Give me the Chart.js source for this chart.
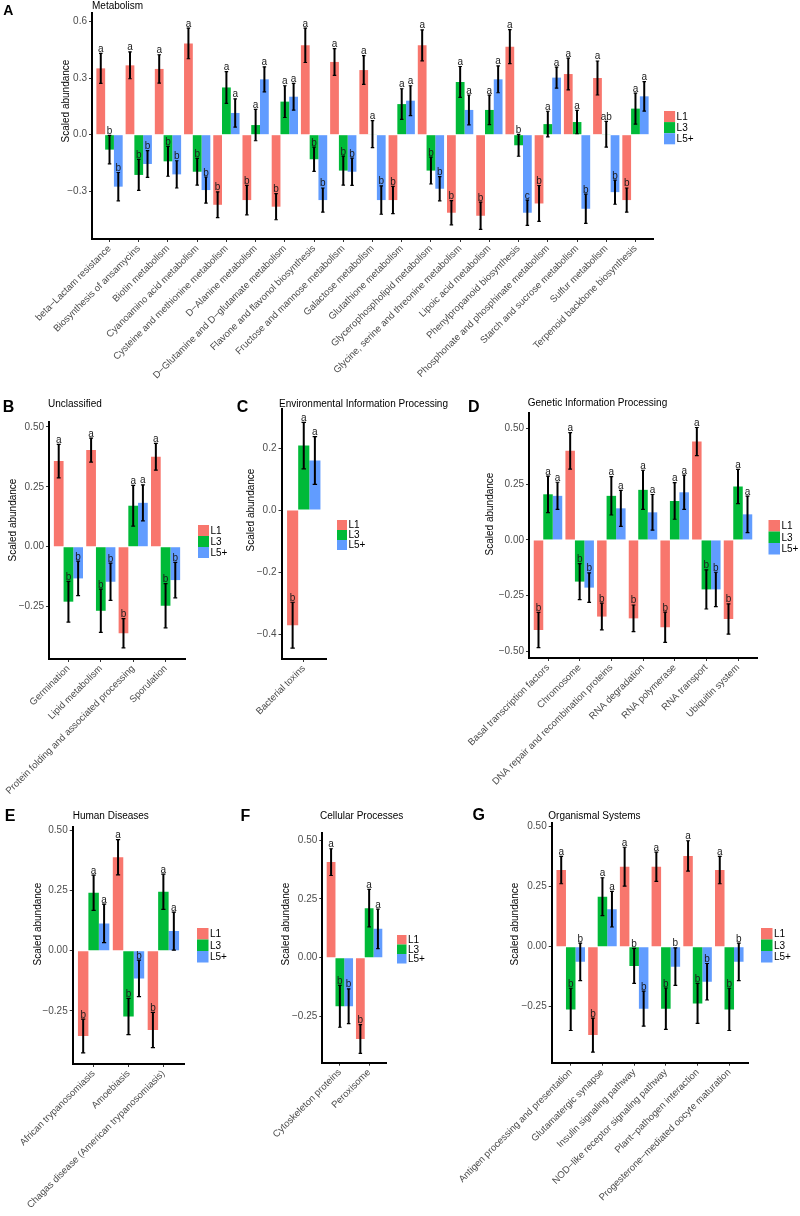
<!DOCTYPE html>
<html>
<head>
<meta charset="utf-8">
<script src="https://cdn.jsdelivr.net/npm/chart.js@4.4.1/dist/chart.umd.min.js"></script>
<style>
  html, body { margin: 0; padding: 0; background: #fff; }
  #page { position: relative; width: 800px; height: 1216px; overflow: hidden; background: #fff; }
  #page canvas { position: absolute; }
</style>
</head>
<body>
<div id="page"></div>
<script>
//Grupos y colores
const groups = ["L1", "L3", "L5+"];
const colors = ["#F8766D", "#00BA38", "#619CFF"];

// A - Metabolism
const metCats = ["beta\u2212Lactam resistance", "Biosynthesis of ansamycins", "Biotin metabolism",
  "Cyanoamino acid metabolism", "Cysteine and methionine metabolism", "D\u2212Alanine metabolism",
  "D\u2212Glutamine and D\u2212glutamate metabolism", "Flavone and flavonol biosynthesis",
  "Fructose and mannose metabolism", "Galactose metabolism", "Glutathione metabolism",
  "Glycerophospholipid metabolism", "Glycine, serine and threonine metabolism", "Lipoic acid metabolism",
  "Phenylpropanoid biosynthesis", "Phosphonate and phosphinate metabolism", "Starch and sucrose metabolism",
  "Sulfur metabolism", "Terpenoid backbone biosynthesis"];
const metL1 = [0.351, 0.367, 0.348, 0.483, -0.371, -0.346, -0.381, 0.473, 0.385, 0.342, -0.346, 0.473, -0.413, -0.429, 0.466, -0.364, 0.321, 0.300, -0.346];
const metL3 = [-0.079, -0.213, -0.141, -0.196, 0.250, 0.051, 0.175, -0.130, -0.190, 0.003, 0.162, -0.190, 0.279, 0.131, -0.056, 0.056, 0.067, 0.002, 0.138];
const metL5 = [-0.275, -0.155, -0.210, -0.293, 0.115, 0.293, 0.201, -0.346, -0.196, -0.346, 0.180, -0.286, 0.131, 0.293, -0.413, 0.302, -0.392, -0.304, 0.203];
const metSeL1 = [0.079, 0.071, 0.075, 0.081, 0.068, 0.078, 0.069, 0.091, 0.071, 0.076, 0.072, 0.082, 0.064, 0.072, 0.090, 0.095, 0.084, 0.090, 0.064];
const metSeL3 = [0.075, 0.082, 0.079, 0.071, 0.084, 0.083, 0.084, 0.064, 0.077, 0.071, 0.081, 0.071, 0.082, 0.078, 0.058, 0.068, 0.062, 0.068, 0.082];
const metSeL5 = [0.075, 0.071, 0.072, 0.069, 0.075, 0.066, 0.071, 0.064, 0.072, 0.075, 0.079, 0.064, 0.079, 0.071, 0.067, 0.056, 0.077, 0.064, 0.078];
const metSigL1 = ["a","a","a","a","b","b","b","a","a","a","b","a","b","b","a","b","a","a","b"];
const metSigL3 = ["b","b","b","b","a","a","a","b","b","a","a","b","a","a","b","a","a","ab","a"];
const metSigL5 = ["b","b","b","b","a","a","a","b","b","b","a","b","a","a","c","a","b","b","a"];
const metTicks = [-0.3, 0, 0.3, 0.6];

// B - Unclassified
const uncCats = ["Germination", "Lipid metabolism", "Protein folding and associated processing", "Sporulation"];
const uncL1 = [0.357, 0.403, -0.361, 0.375];
const uncL3 = [-0.229, -0.267, 0.171, -0.246];
const uncL5 = [-0.132, -0.146, 0.183, -0.139];
const uncSeL1 = [0.070, 0.050, 0.061, 0.056];
const uncSeL3 = [0.085, 0.090, 0.085, 0.092];
const uncSeL5 = [0.072, 0.078, 0.075, 0.074];
const uncSigL1 = ["a","a","b","a"];
const uncSigL3 = ["b","b","a","b"];
const uncSigL5 = ["b","b","a","b"];
const uncTicks = [-0.25, 0, 0.25, 0.5];

// C - Environmental Information Processing
const envCats = ["Bacterial toxins"];
const envL1 = [-0.371], envL3 = [0.208], envL5 = [0.160];
const envSeL1 = [0.074], envSeL3 = [0.075], envSeL5 = [0.077];
const envSigL1 = ["b"], envSigL3 = ["a"], envSigL5 = ["a"];
const envTicks = [-0.4, -0.2, 0, 0.2];

// D - Genetic Information Processing
const genCats = ["Basal transcription factors", "Chromosome", "DNA repair and recombination proteins",
  "RNA degradation", "RNA polymerase", "RNA transport", "Ubiquitin system"];
const genL1 = [-0.404, 0.400, -0.344, -0.352, -0.392, 0.442, -0.355];
const genL3 = [0.205, -0.187, 0.198, 0.225, 0.175, -0.222, 0.240];
const genL5 = [0.198, -0.214, 0.142, 0.124, 0.214, -0.222, 0.115];
const genSeL1 = [0.079, 0.082, 0.060, 0.060, 0.068, 0.063, 0.068];
const genSeL3 = [0.082, 0.081, 0.086, 0.088, 0.082, 0.088, 0.077];
const genSeL5 = [0.061, 0.066, 0.081, 0.080, 0.077, 0.077, 0.082];
const genSigL1 = ["b","a","b","b","b","a","b"];
const genSigL3 = ["a","b","a","a","a","b","a"];
const genSigL5 = ["a","b","a","a","a","b","a"];
const genTicks = [-0.5, -0.25, 0, 0.25, 0.5];

// E - Human Diseases
const humCats = ["African trypanosomiasis", "Amoebiasis", "Chagas disease (American trypanosomiasis)"];
const humL1 = [-0.354, 0.387, -0.329];
const humL3 = [0.240, -0.273, 0.244];
const humL5 = [0.113, -0.115, 0.081];
const humSeL1 = [0.070, 0.073, 0.073];
const humSeL3 = [0.073, 0.075, 0.073];
const humSeL5 = [0.080, 0.076, 0.079];
const humSigL1 = ["b","a","b"];
const humSigL3 = ["a","b","a"];
const humSigL5 = ["a","b","a"];
const humTicks = [-0.25, 0, 0.25, 0.5];

// F - Cellular Processes
const celCats = ["Cytoskeleton proteins", "Peroxisome"];
const celL1 = [0.407, -0.346];
const celL3 = [-0.207, 0.211];
const celL5 = [-0.207, 0.123];
const celSeL1 = [0.057, 0.061];
const celSeL3 = [0.089, 0.080];
const celSeL5 = [0.074, 0.084];
const celSigL1 = ["a","b"];
const celSigL3 = ["b","a"];
const celSigL5 = ["b","a"];
const celTicks = [-0.25, 0, 0.25, 0.5];

// G - Organismal Systems
const orgCats = ["Antigen processing and presentation", "Glutamatergic synapse", "Insulin signaling pathway",
  "NOD\u2212like receptor signaling pathway", "Plant\u2212pathogen interaction", "Progesterone\u2212mediated oocyte maturation"];
const orgL1 = [0.319, -0.368, 0.333, 0.333, 0.378, 0.319];
const orgL3 = [-0.261, 0.208, -0.080, -0.258, -0.236, -0.261];
const orgL5 = [-0.063, 0.156, -0.258, -0.083, -0.146, -0.063];
const orgSeL1 = [0.057, 0.071, 0.081, 0.061, 0.063, 0.057];
const orgSeL3 = [0.088, 0.079, 0.073, 0.086, 0.083, 0.088];
const orgSeL5 = [0.078, 0.074, 0.073, 0.078, 0.076, 0.078];
const orgSigL1 = ["a","b","a","a","a","a"];
const orgSigL3 = ["b","a","b","b","b","b"];
const orgSigL5 = ["b","a","b","b","b","b"];
const orgTicks = [-0.25, 0, 0.25, 0.5];

const FONT = "'Liberation Sans', Arial, Helvetica, sans-serif";
Chart.defaults.font.family = FONT;
Chart.defaults.font.size = 10;

function fmt(v, dec) {
  return (v < 0 ? "\u2212" : "") + Math.abs(v).toFixed(dec);
}

//Plugin: barras de error, letras, títulos y leyenda
const deco = {
  id: "deco",
  afterDatasetsDraw(chart, args, o) {
    const ctx = chart.ctx;
    const ys = chart.scales.y, xs = chart.scales.x;
    const unit = xs.getPixelForValue(1) - xs.getPixelForValue(0);
    const cap = unit * 0.06;
    ctx.save();
    chart.data.datasets.forEach((ds, d) => {
      chart.getDatasetMeta(d).data.forEach((bar, i) => {
        const v = ds.data[i].y, e = ds.errors[i];
        const top = ys.getPixelForValue(v + e), bot = ys.getPixelForValue(v - e);
        ctx.strokeStyle = "#000";
        ctx.lineWidth = 2;
        ctx.beginPath();
        ctx.moveTo(bar.x, top); ctx.lineTo(bar.x, bot);
        ctx.stroke();
        ctx.lineWidth = 1.2;
        ctx.beginPath();
        ctx.moveTo(bar.x - cap, top); ctx.lineTo(bar.x + cap, top);
        ctx.moveTo(bar.x - cap, bot); ctx.lineTo(bar.x + cap, bot);
        ctx.stroke();
        ctx.fillStyle = "#1a1a1a";
        ctx.font = "10px " + FONT;
        ctx.textAlign = "center";
        ctx.textBaseline = "alphabetic";
        ctx.fillText(ds.sig[i], bar.x, top - 1.5);
      });
    });
    ctx.restore();
  },
  afterDraw(chart, args, o) {
    const ctx = chart.ctx;
    const ox = o.origin[0], oy = o.origin[1];
    ctx.save();
    // letra del panel
    ctx.fillStyle = "#000";
    ctx.font = "bold " + o.letterSize + "px " + FONT;
    ctx.textAlign = "center";
    ctx.textBaseline = "middle";
    ctx.fillText(o.letter, o.letterPos[0] - ox, o.letterPos[1] - oy);
    // título
    ctx.font = "10px " + FONT;
    ctx.textAlign = "left";
    ctx.fillText(o.title, o.titlePos[0] - ox, o.titlePos[1] - oy);
    // título eje y
    ctx.save();
    ctx.translate(o.yTitlePos[0] - ox, o.yTitlePos[1] - oy);
    ctx.rotate(-Math.PI / 2);
    ctx.textAlign = "center";
    ctx.fillText("Scaled abundance", 0, 0);
    ctx.restore();
    // leyenda
    const lx = o.legendPos[0] - ox, ly = o.legendPos[1] - oy, k = o.legendKey;
    chart.data.datasets.forEach((ds, d) => {
      ctx.fillStyle = ds.backgroundColor;
      ctx.fillRect(lx, ly + d * k, k, k);
      ctx.fillStyle = "#000";
      ctx.textAlign = "left";
      ctx.fillText(ds.label, lx + k + 1.5, ly + d * k + k / 2 + 0.5);
    });
    ctx.restore();
  }
};

const panels = [
  { letter: "A", letterSize: 14, letterPos: [8.3, 11], title: "Metabolism", titlePos: [92, 6],
    yTitlePos: [66.5, 101], legendPos: [664, 111], legendKey: 11.1,
    box: [0, 0, 800, 400], area: [92, 13, 653, 239], yMin: -0.552, yMax: 0.644, dec: 1,
    cats: metCats, ticks: metTicks, values: [metL1, metL3, metL5],
    errs: [metSeL1, metSeL3, metSeL5], sig: [metSigL1, metSigL3, metSigL5] },
  { letter: "B", letterSize: 16, letterPos: [8.5, 407.5], title: "Unclassified", titlePos: [48, 404],
    yTitlePos: [13.3, 520], legendPos: [198, 525], legendKey: 11,
    box: [0, 395, 240, 420], area: [49, 422, 185, 659], yMin: -0.468, yMax: 0.52, dec: 2,
    cats: uncCats, ticks: uncTicks, values: [uncL1, uncL3, uncL5],
    errs: [uncSeL1, uncSeL3, uncSeL5], sig: [uncSigL1, uncSigL3, uncSigL5] },
  { letter: "C", letterSize: 16, letterPos: [242.5, 407.5], title: "Environmental Information Processing", titlePos: [279, 404],
    yTitlePos: [251.7, 510], legendPos: [337, 520], legendKey: 10,
    box: [230, 395, 235, 420], area: [281.5, 409, 326, 659], yMin: -0.48, yMax: 0.326, dec: 1,
    cats: envCats, ticks: envTicks, values: [envL1, envL3, envL5],
    errs: [envSeL1, envSeL3, envSeL5], sig: [envSigL1, envSigL3, envSigL5] },
  { letter: "D", letterSize: 16, letterPos: [473.8, 407.5], title: "Genetic Information Processing", titlePos: [527.7, 403.7],
    yTitlePos: [490.7, 514], legendPos: [768.5, 520], legendKey: 11.5,
    box: [420, 395, 380, 420], area: [529, 413, 757, 658], yMin: -0.53, yMax: 0.57, dec: 2,
    cats: genCats, ticks: genTicks, values: [genL1, genL3, genL5],
    errs: [genSeL1, genSeL3, genSeL5], sig: [genSigL1, genSigL3, genSigL5] },
  { letter: "E", letterSize: 16, letterPos: [10, 816.5], title: "Human Diseases", titlePos: [72.7, 816],
    yTitlePos: [38.3, 924], legendPos: [197, 928], legendKey: 11.5,
    box: [0, 805, 240, 411], area: [72.7, 826.7, 184.3, 1064], yMin: -0.47, yMax: 0.514, dec: 2,
    cats: humCats, ticks: humTicks, values: [humL1, humL3, humL5],
    errs: [humSeL1, humSeL3, humSeL5], sig: [humSigL1, humSigL3, humSigL5] },
  { letter: "F", letterSize: 16, letterPos: [245.3, 817], title: "Cellular Processes", titlePos: [320, 816],
    yTitlePos: [286.7, 924], legendPos: [397, 935], legendKey: 9.5,
    box: [235, 805, 200, 411], area: [322.3, 833, 386.7, 1062.7], yMin: -0.447, yMax: 0.531, dec: 2,
    cats: celCats, ticks: celTicks, values: [celL1, celL3, celL5],
    errs: [celSeL1, celSeL3, celSeL5], sig: [celSigL1, celSigL3, celSigL5] },
  { letter: "G", letterSize: 16, letterPos: [478.8, 816], title: "Organismal Systems", titlePos: [548.3, 816],
    yTitlePos: [515, 924], legendPos: [761, 928], legendKey: 11.5,
    box: [420, 805, 380, 411], area: [551.7, 823, 748.3, 1062.7], yMin: -0.483, yMax: 0.515, dec: 2,
    cats: orgCats, ticks: orgTicks, values: [orgL1, orgL3, orgL5],
    errs: [orgSeL1, orgSeL3, orgSeL5], sig: [orgSigL1, orgSigL3, orgSigL5] }
];

const page = document.getElementById("page");

function makePanel(p) {
  const [bx, by, bw, bh] = p.box;
  const [l, t, r, b] = p.area;
  const cv = document.createElement("canvas");
  cv.width = bw;
  cv.height = bh;
  cv.style.left = bx + "px";
  cv.style.top = by + "px";
  page.appendChild(cv);
  const n = p.cats.length;
  const axisGrid = { display: true, offset: false, drawOnChartArea: false, drawTicks: true, tickLength: 3, color: "#333", lineWidth: 1 };
  const axisBorder = { display: true, color: "#000", width: 2 };
  new Chart(cv, {
    type: "bar",
    data: {
      datasets: groups.map((g, d) => ({
        label: g,
        data: p.values[d].map((v, i) => ({ x: i, y: v })),
        errors: p.errs[d],
        sig: p.sig[d],
        backgroundColor: colors[d],
        borderWidth: 0,
        categoryPercentage: n > 1 ? 0.9 : 0.75,
        barPercentage: 1
      }))
    },
    options: {
      responsive: false,
      animation: false,
      layout: { padding: { left: 0, top: t - by, right: bx + bw - r, bottom: 0 } },
      plugins: {
        legend: { display: false },
        tooltip: { enabled: false },
        deco: Object.assign({ origin: [bx, by] }, p)
      },
      scales: {
        x: {
          type: "linear",
          offset: false,
          min: -0.6,
          max: n - 0.4,
          afterBuildTicks: (s) => { s.ticks = p.cats.map((c, i) => ({ value: i })); },
          afterFit: (s) => { s.height = by + bh - b; },
          ticks: { autoSkip: false, minRotation: 45, maxRotation: 45, padding: 1, color: "#4d4d4d",
                   font: { size: 9.6 }, callback: (v) => p.cats[v] },
          grid: axisGrid,
          border: axisBorder
        },
        y: {
          min: p.yMin,
          max: p.yMax,
          afterBuildTicks: (s) => { s.ticks = p.ticks.map((v) => ({ value: v })); },
          afterFit: (s) => { s.width = l - bx; },
          ticks: { padding: 2, color: "#4d4d4d", callback: (v) => fmt(v, p.dec) },
          grid: axisGrid,
          border: axisBorder
        }
      }
    },
    plugins: [deco]
  });
}

window.addEventListener("load", () => {
  panels.forEach(makePanel);
});
</script>
</body>
</html>
